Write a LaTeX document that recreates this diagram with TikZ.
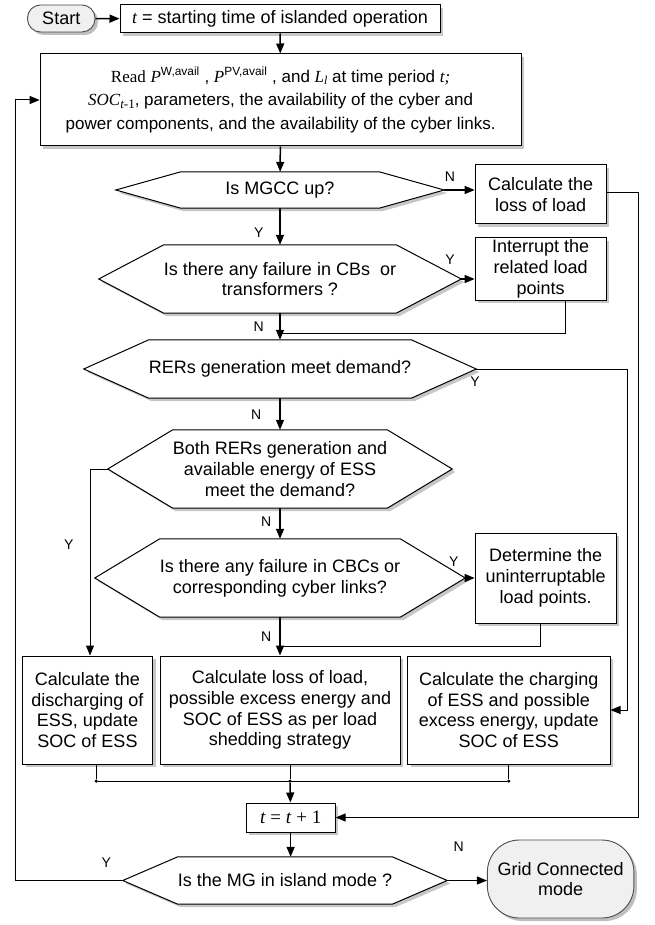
\documentclass[tikz,border=0pt]{standalone}
\usepackage{fontspec}
\setmainfont{Liberation Serif}
\setsansfont{Liberation Sans}
\usetikzlibrary{calc,shadows,backgrounds,arrows.meta}

\newcommand{\vi}[1]{{\rmfamily\itshape #1}}
\newcommand{\sups}[1]{\textsuperscript{\sffamily\upshape #1}}
\newcommand{\subsz}[2]{{\rmfamily\fontsize{#1}{#1}\selectfont\raisebox{-0.45ex}{#2}}}

% hexagonal decision: drawn around a text node, tips named <node>l and <node>r
\newcommand{\hexdraw}[2]{%
  \coordinate (#1r) at ($(#1.east)+(#2,0)$);
  \coordinate (#1l) at ($(#1.west)-(#2,0)$);
  \begin{scope}[on background layer]
    \fill[shadowc] ([shift={(2.4,3)}]#1.north west) -- ([shift={(2.4,3)}]#1.north east)
      -- ([shift={(2.4,3)}]#1r) -- ([shift={(2.4,3)}]#1.south east)
      -- ([shift={(2.4,3)}]#1.south west) -- ([shift={(2.4,3)}]#1l) -- cycle;
    \filldraw[boxline,fill=white] (#1.north west) -- (#1.north east) -- (#1r)
      -- (#1.south east) -- (#1.south west) -- (#1l) -- cycle;
  \end{scope}}

\begin{document}
\begin{tikzpicture}[x=1.25pt,y=-1pt,
  font=\sffamily\fontsize{18}{20.7}\selectfont,
  boxline/.style={draw=black,line width=1pt},
  shadowc/.style={fill=black!22},
  proc/.style={boxline,fill=white,align=center,inner sep=2pt,
    drop shadow={shadow xshift=3pt,shadow yshift=-3pt,fill=black!22,opacity=1}},
  term/.style={draw=black!70,line width=0.9pt,fill=black!6,align=center,inner sep=2pt,
    drop shadow={shadow xshift=3pt,shadow yshift=-3pt,fill=black!25,opacity=1}},
  hexin/.style={align=center,inner sep=0pt},
  flow/.style={line width=1.5pt,-{Triangle[length=10pt,width=8pt]}},
  loopline/.style={line width=1pt},
  looparr/.style={line width=1pt,-{Triangle[length=10pt,width=8pt]}},
  lbl/.style={font=\sffamily\fontsize{14}{16}\selectfont,inner sep=0pt},
  dot/.style={circle,fill=black,inner sep=0pt,minimum size=3.5pt}]

\useasboundingbox (0,0) rectangle (523.2,925);

% terminals and processes
\node[term,rounded corners=13pt,minimum width=67.5pt,minimum height=27pt] (start) at (49,18.5) {Start};
\node[proc,minimum width=320pt,minimum height=28pt] (t0) at (224,19)
  {\vi{t} = starting time of islanded operation};
\node[proc,minimum width=481pt,minimum height=92pt,font=\sffamily\fontsize{17}{23.5}\selectfont] (read) at (224.5,100)
  {{\rmfamily Read} \vi{P}\sups{W,avail} , \vi{P}\sups{PV,avail} , and \vi{L}\subsz{12}{\itshape l} at time period \vi{t;}\\
   \vi{SOC}\subsz{13}{\itshape t\upshape-1}, parameters, the availability of the cyber and\\
   power components, and the availability of the cyber links.};

% decisions
\node[hexin,minimum width=198pt,minimum height=36pt] (q1) at (224,190) {Is MGCC up?};
\hexdraw{q1}{52}
\node[hexin,minimum width=198pt,minimum height=68pt] (q2) at (224,279)
  {Is there any failure in CBs\ \ or\\transformers ?};
\hexdraw{q2}{52}
\node[hexin,minimum width=198pt,minimum height=58pt] (q3) at (224,369) {RERs generation meet demand?};
\hexdraw{q3}{52}
\node[hexin,minimum width=198pt,minimum height=78pt] (q4) at (224,469)
  {Both RERs generation and\\available energy of ESS\\meet the demand?};
\hexdraw{q4}{52}
\node[hexin,minimum width=198pt,minimum height=78pt] (q5) at (224,578)
  {Is there any failure in CBCs or\\corresponding cyber links?};
\hexdraw{q5}{52}
\node[hexin,minimum width=185pt,minimum height=47pt] (q6) at (228,880.5) {Is the MG in island mode ?};
\hexdraw{q6}{44}

% side actions
\node[proc,minimum width=131pt,minimum height=59pt] (loss1) at (432.5,194.5) {Calculate the\\loss of load};
\node[proc,minimum width=131pt,minimum height=62pt] (intr) at (432.5,269) {Interrupt the\\related load\\points};
\node[proc,minimum width=141pt,minimum height=90pt] (det) at (436.5,578) {Determine the\\uninterruptable\\load points.};

% bottom row
\node[proc,minimum width=130pt,minimum height=108pt] (dis) at (70,710)
  {Calculate the\\discharging of\\ESS, update\\SOC of ESS};
\node[proc,minimum width=240pt,minimum height=108pt] (shed) at (224,710)
  {Calculate loss of load,\\possible excess energy and\\SOC of ESS as per load\\shedding strategy};
\node[proc,minimum width=202.5pt,minimum height=108pt] (chg) at (407,710)
  {Calculate the charging\\of ESS and possible\\excess energy, update\\SOC of ESS};

\node[proc,minimum width=89pt,minimum height=29pt,font=\rmfamily\fontsize{19}{21}\selectfont] (tp1) at (232.5,817.5)
  {\textit{t} = \textit{t} + 1};
\node[term,rounded corners=32pt,minimum width=146.5pt,minimum height=78pt] (grid) at (448.5,879)
  {Grid Connected\\mode};

% junction points
\coordinate (jq2) at (224,333);
\coordinate (jq5) at (224,646);
\node[dot] (b1) at (77,781) {};
\node[dot] (b2) at (232,781) {};
\node[dot] (b3) at (407,781) {};

% main flow
\draw[flow] (start) -- (t0);
\draw[flow] (t0) -- (read);
\draw[flow] (read) -- (q1);
\draw[flow] (q1r) -- (q1r -| loss1.west);
\draw[flow] (q1) -- (q2);
\draw[flow] (q2r) -- (q2r -| intr.west);
\draw[flow] (q2) -- (q3);
\draw[loopline] (intr.south -| 452,0) |- (jq2);
\draw[flow] (q3) -- (q4);
\draw[flow] (q4) -- (q5);
\draw[flow] (q5r) -- (q5r -| det.west);
\draw[flow] (q5) -- (shed);
\draw[loopline] (det.south -| 432,0) |- (jq5);
\draw[looparr] (q4l) -- (72,469) -- (72,0 |- dis.north);
\draw[looparr] (q3r) -- (502,369) |- (chg.east);
\draw[looparr] (loss1.east |- 0,193) -- (511,193) |- (tp1.east);

% collection bus
\draw[loopline] (dis.south -| b1) -- (b1);
\draw[loopline] (shed.south -| b2) -- (b2);
\draw[loopline] (chg.south -| b3) -- (b3);
\draw[loopline] (b1) -- (b3);
\draw[flow] (b2) -- (tp1);
\draw[flow] (tp1) -- (tp1.south |- q6.north);
\draw[looparr] (q6r) -- (grid.west |- q6r);
\draw[looparr] (q6l) -- (12,880.5) |- (read.west);

% branch labels
\node[lbl] (n1) at (360,177) {N};
\node[lbl] (y1) at (207,233) {Y};
\node[lbl] (y2) at (360,260) {Y};
\node[lbl] (n2) at (207,327) {N};
\node[lbl] (y3) at (380,382) {Y};
\node[lbl] (n3) at (205,415) {N};
\node[lbl] (n4) at (213,522) {N};
\node[lbl] (y4) at (55,545) {Y};
\node[lbl] (y5) at (363,562) {Y};
\node[lbl] (n5) at (213,637) {N};
\node[lbl] (n6) at (367,847) {N};
\node[lbl] (y6) at (85,863) {Y};
\end{tikzpicture}
\end{document}
